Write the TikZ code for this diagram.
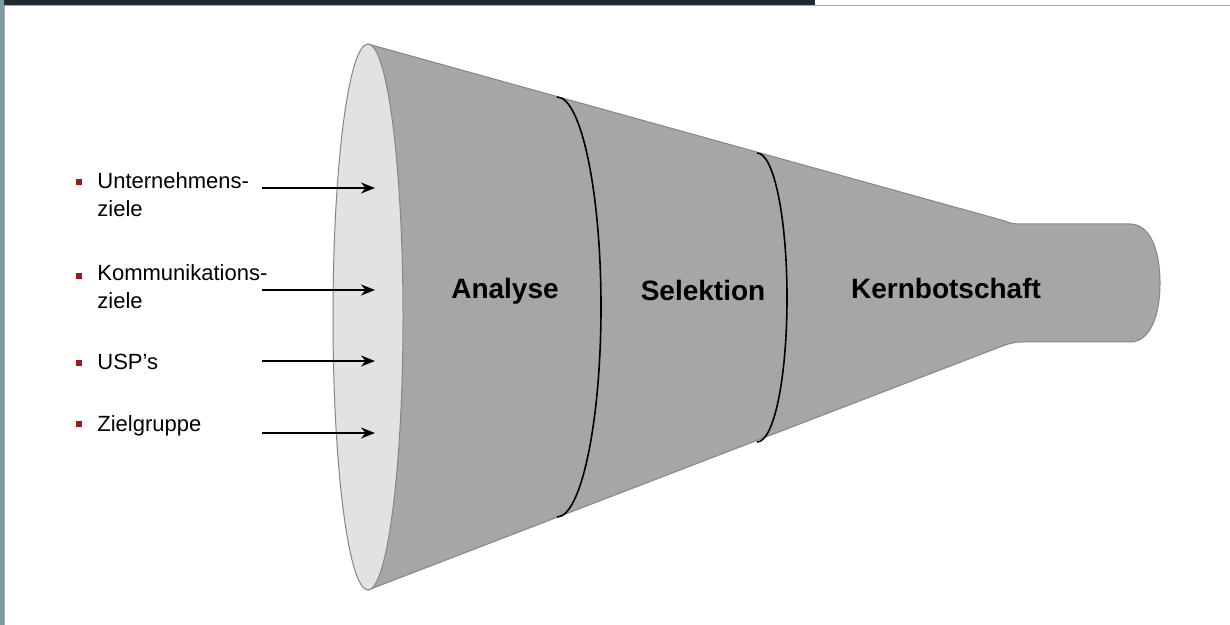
\documentclass[tikz,border=0pt]{standalone}
\usepackage{fontspec}
\setmainfont{Liberation Sans}
\usetikzlibrary{positioning}
\usetikzlibrary{arrows.meta}
\definecolor{funnelgray}{HTML}{A6A6A6}
\definecolor{mouthgray}{HTML}{E1E2E4}
\definecolor{rimgray}{HTML}{8A8480}
\definecolor{bulletred}{HTML}{A01818}
\definecolor{framegray}{HTML}{ABA7BA}
\definecolor{stripteal}{HTML}{7E9BA2}
\definecolor{banddark}{HTML}{1F2A30}
\tikzset{
 bullet/.style={fill=bulletred,inner sep=0pt,minimum size=3.2pt},
 item/.style={anchor=base west,align=left,inner sep=0pt,font=\fontsize{11pt}{14pt}\selectfont},
 stage/.style={anchor=base,font=\fontsize{14pt}{16pt}\selectfont\bfseries,inner sep=0pt},
 feed/.style={line width=1.1pt,-{Stealth[length=7pt,width=5.5pt]}}
}
\begin{document}
\begin{tikzpicture}[x=0.5pt,y=-0.5pt]
 \useasboundingbox (0,0) rectangle (1230,625);
 \fill[white] (0,0) rectangle (1230,625);
 \fill[banddark] (0,0) rectangle (815,5);
 \fill[stripteal] (0,0) rectangle (4,625);
 \draw[framegray,line width=0.8pt] (1230,5.5) -- (4.5,5.5) -- (4.5,625);
 \draw[rimgray,line width=0.5pt,fill=funnelgray] (368,44) -- (1005,221) .. controls (1012,224) and (1015,224) .. (1022,224) -- (1130,224) .. controls (1150,224) and (1160,250) .. (1160,283) .. controls (1160,316) and (1150,342) .. (1130,342) -- (1022,342) .. controls (1015,342) and (1012,343) .. (1005,345) -- (368,590) -- cycle;
 \draw[rimgray,line width=0.5pt,fill=mouthgray] (368,317) ellipse [x radius=35,y radius=273];
 \draw[black,line width=0.8pt] (557,97) .. controls (581,97) and (601,191) .. (601,307) .. controls (601,423) and (581,517) .. (557,517);
 \draw[black,line width=0.8pt] (757,153) .. controls (774,153) and (787,218) .. (787,298) .. controls (787,378) and (774,442) .. (757,442);
 \node[stage] (analyse) at (505,299) {Analyse};
 \node[stage] (selektion) at (703,301) {Selektion};
 \node[stage] (kern) at (946,299) {Kernbotschaft};
 \node[bullet] (b1) at (79,182) {};
 \node[bullet] (b2) at (79,276) {};
 \node[bullet] (b3) at (79,363) {};
 \node[bullet] (b4) at (79,424) {};
 \node[item] (unternehmen) at (97,217) {Unternehmens-\\ziele};
 \node[item] (kommunikation) at (97,309) {Kommunikations-\\ziele};
 \node[item] (usp) at (97,370) {USP’s};
 \node[item] (zielgruppe) at (97,431) {Zielgruppe};
 \coordinate (s1) at (262,188);
 \coordinate (s2) at (262,290);
 \coordinate (s3) at (262,361);
 \coordinate (s4) at (262,433);
 \coordinate (e1) at (375,188);
 \coordinate (e2) at (375,290);
 \coordinate (e3) at (375,361);
 \coordinate (e4) at (375,433);
 \draw[feed] (s1) -- (e1);
 \draw[feed] (s2) -- (e2);
 \draw[feed] (s3) -- (e3);
 \draw[feed] (s4) -- (e4);
\end{tikzpicture}
\end{document}
